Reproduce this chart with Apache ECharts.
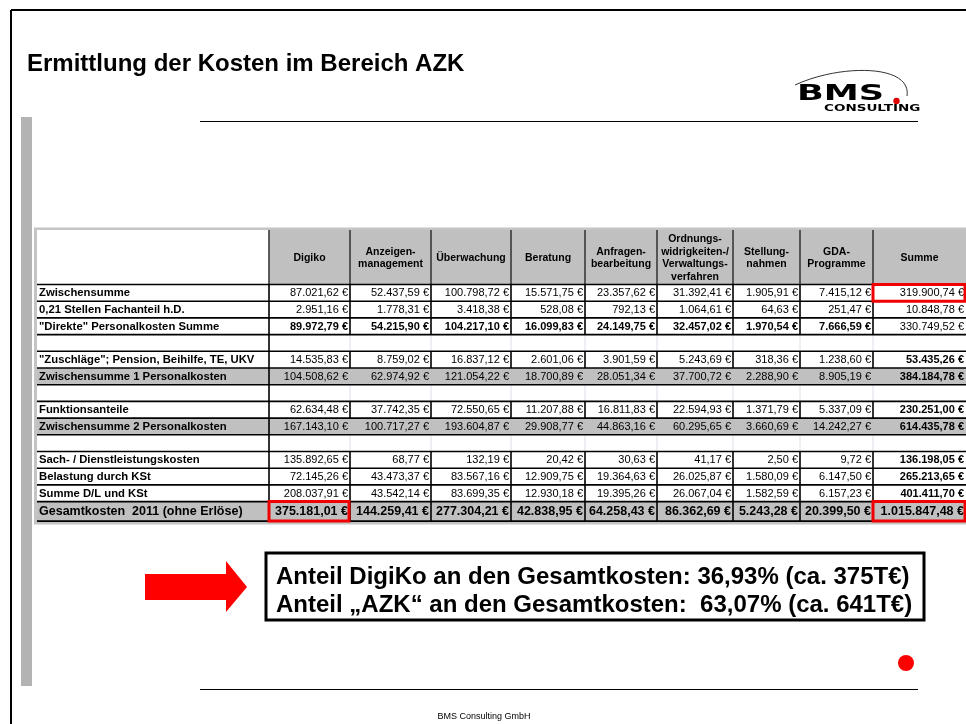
<!DOCTYPE html>
<html>
<head>
<meta charset="utf-8">
<script src="https://cdn.jsdelivr.net/npm/echarts@6/dist/echarts.min.js"></script>
<style>html,body{margin:0;padding:0;background:#fff}#c{width:966px;height:724px}</style>
</head>
<body>
<div id="c"></div>
<script>
// ---------- DATA ----------
const columns = ['Digiko', 'Anzeigen-\nmanagement', 'Überwachung', 'Beratung', 'Anfragen-\nbearbeitung',
  'Ordnungs-\nwidrigkeiten-/\nVerwaltungs-\nverfahren', 'Stellung-\nnahmen', 'GDA-\nProgramme', 'Summe'];
const rowLabels = ['Zwischensumme', '0,21 Stellen Fachanteil h.D.', '"Direkte" Personalkosten Summe', '',
  '"Zuschläge"; Pension, Beihilfe, TE, UKV', 'Zwischensumme 1 Personalkosten', '',
  'Funktionsanteile', 'Zwischensumme 2 Personalkosten', '',
  'Sach- / Dienstleistungskosten', 'Belastung durch KSt', 'Summe D/L und KSt', 'Gesamtkosten  2011 (ohne Erlöse)'];
const zwischensumme = [87021.62, 52437.59, 100798.72, 15571.75, 23357.62, 31392.41, 1905.91, 7415.12, 319900.74];
const fachanteil    = [2951.16, 1778.31, 3418.38, 528.08, 792.13, 1064.61, 64.63, 251.47, 10848.78];
const direkte       = [89972.79, 54215.90, 104217.10, 16099.83, 24149.75, 32457.02, 1970.54, 7666.59, 330749.52];
const zuschlaege    = [14535.83, 8759.02, 16837.12, 2601.06, 3901.59, 5243.69, 318.36, 1238.60, 53435.26];
const zwischen1     = [104508.62, 62974.92, 121054.22, 18700.89, 28051.34, 37700.72, 2288.90, 8905.19, 384184.78];
const funktion      = [62634.48, 37742.35, 72550.65, 11207.88, 16811.83, 22594.93, 1371.79, 5337.09, 230251.00];
const zwischen2     = [167143.10, 100717.27, 193604.87, 29908.77, 44863.16, 60295.65, 3660.69, 14242.27, 614435.78];
const sachkosten    = [135892.65, 68.77, 132.19, 20.42, 30.63, 41.17, 2.50, 9.72, 136198.05];
const belastung     = [72145.26, 43473.37, 83567.16, 12909.75, 19364.63, 26025.87, 1580.09, 6147.50, 265213.65];
const summeDL       = [208037.91, 43542.14, 83699.35, 12930.18, 19395.26, 26067.04, 1582.59, 6157.23, 401411.70];
const gesamt        = [375181.01, 144259.41, 277304.21, 42838.95, 64258.43, 86362.69, 5243.28, 20399.50, 1015847.48];
const rowValues = [zwischensumme, fachanteil, direkte, null, zuschlaege, zwischen1, null,
  funktion, zwischen2, null, sachkosten, belastung, summeDL, gesamt];

// ---------- LAYOUT / STYLE ----------
const rowKinds = ['normal', 'normal', 'bold', 'blank', 'normal', 'gray', 'blank', 'normal', 'gray', 'blank',
  'normal', 'normal', 'normal', 'total'];
const colWidths = [232, 81, 81, 80, 74, 72, 76, 67, 73, 93];
const rowHeights = [54.5].concat(new Array(13).fill(16.7)).concat([19.5]);
const highlights = [[1, 14], [9, 1], [9, 14]];

const colEdges = [0]; colWidths.forEach(w => colEdges.push(colEdges[colEdges.length - 1] + w));
const rowEdges = [0]; rowHeights.forEach(h => rowEdges.push(rowEdges[rowEdges.length - 1] + h));
const W = colEdges[colEdges.length - 1], H = rowEdges[rowEdges.length - 1];

function fmt(v) {
  const p = v.toFixed(2).split('.');
  p[0] = p[0].replace(/\B(?=(\d{3})+(?!\d))/g, '.');
  return p[0] + ',' + p[1] + ' €';
}
const FF = '"Liberation Sans", Arial, sans-serif';

const cells = [];
for (let r = 0; r <= rowLabels.length; r++) for (let c = 0; c <= columns.length; c++) cells.push([c, r]);

function renderItem(params, api) {
  const c = api.value(0), r = api.value(1);
  const p0 = api.coord([colEdges[c], rowEdges[r]]);
  const p1 = api.coord([colEdges[c + 1], rowEdges[r + 1]]);
  const x = p0[0], y = p0[1], w = p1[0] - p0[0], h = p1[1] - p0[1];
  const kind = r === 0 ? 'header' : rowKinds[r - 1];
  const ch = [];
  let fill = '#fff';
  if ((kind === 'header' && c > 0) || kind === 'gray' || kind === 'total') fill = '#c0c0c0';
  ch.push({ type: 'rect', z2: 0, shape: { x: x, y: y, width: w, height: h }, style: { fill: fill } });

  if (kind === 'header') {
    if (c > 0) ch.push({ type: 'text', z2: 20, style: { text: columns[c - 1], x: x + w / 2, y: y + h / 2 + 1,
      align: 'center', verticalAlign: 'middle', font: 'bold 10.5px ' + FF, lineHeight: 12.7, fill: '#000' } });
  } else if (kind !== 'blank') {
    const big = kind === 'total';
    if (c === 0) {
      ch.push({ type: 'text', z2: 20, style: { text: rowLabels[r - 1], x: x + 2, y: y + h / 2 + 0.5,
        align: 'left', verticalAlign: 'middle', font: 'bold ' + (big ? 12.5 : 11.3) + 'px ' + FF, fill: '#000' } });
    } else {
      let bold = kind === 'bold' || kind === 'total';
      if (c === 9) bold = r >= 5;
      ch.push({ type: 'text', z2: 20, style: { text: fmt(rowValues[r - 1][c - 1]), x: x + w - 2, y: y + h / 2 + 0.5,
        align: 'right', verticalAlign: 'middle', font: (bold ? 'bold ' : '') + (big ? 12.5 : 11) + 'px ' + FF, fill: '#000' } });
    }
  }
  if (c > 0) {
    let stroke = '#000', lw = 1.6;
    if (kind === 'header') { stroke = '#3a3a3a'; lw = 1.6; }
    else if (kind === 'gray' && c > 1) stroke = null;
    else if (kind === 'blank' && c > 1) { stroke = '#dce0ea'; lw = 1; }
    if (stroke) ch.push({ type: 'line', z2: kind === 'blank' && c > 1 ? 5 : 10,
      shape: { x1: x, y1: y, x2: x, y2: y + h }, style: { stroke: stroke, lineWidth: lw } });
  }
  ch.push({ type: 'line', z2: 12, shape: { x1: x, y1: y + h, x2: x + w, y2: y + h }, style: { stroke: '#000', lineWidth: 1.6 } });
  if (highlights.some(hh => hh[0] === c && hh[1] === r)) {
    ch.push({ type: 'rect', z2: 30, shape: { x: x, y: y, width: w - 1, height: h }, style: { fill: 'none', stroke: '#f00000', lineWidth: 3 } });
  }
  return { type: 'group', children: ch };
}

const chart = echarts.init(document.getElementById('c'), null, { renderer: 'canvas' });
chart.setOption({
  animation: false,
  backgroundColor: '#fff',
  grid: { left: 37, top: 230, width: W, height: H },
  xAxis: { type: 'value', min: 0, max: W, show: false },
  yAxis: { type: 'value', min: 0, max: H, inverse: true, show: false },
  series: [{ type: 'custom', renderItem: renderItem, data: cells, clip: false }],
  graphic: [
    { type: 'line', z: 1, shape: { x1: 11, y1: 10, x2: 966, y2: 10 }, style: { stroke: '#000', lineWidth: 2 } },
    { type: 'line', z: 1, shape: { x1: 11, y1: 10, x2: 11, y2: 724 }, style: { stroke: '#000', lineWidth: 2 } },
    { type: 'rect', z: 1, shape: { x: 21, y: 117, width: 11, height: 569 }, style: { fill: '#b3b3b3' } },
    { type: 'text', z: 1, x: 27, y: 64, style: { text: 'Ermittlung der Kosten im Bereich AZK', font: 'bold 24px ' + FF, fill: '#000', verticalAlign: 'middle' } },
    { type: 'line', z: 1, shape: { x1: 200, y1: 121.5, x2: 918, y2: 121.5 }, style: { stroke: '#000', lineWidth: 1 } },
    { type: 'line', z: 1, shape: { x1: 200, y1: 689.5, x2: 918, y2: 689.5 }, style: { stroke: '#000', lineWidth: 1 } },
    { type: 'bezierCurve', z: 1, shape: { x1: 795, y1: 85, cpx1: 840, cpy1: 64, cpx2: 912, cpy2: 64, x2: 907, y2: 96 }, style: { stroke: '#333', lineWidth: 1, fill: 'none' } },
    { type: 'text', z: 1, x: 797, y: 94, scaleX: 1.6, style: { text: 'BMS', font: 'bold 22px "DejaVu Sans"', fill: '#000', verticalAlign: 'middle' } },
    { type: 'circle', z: 1, shape: { cx: 896.5, cy: 101, r: 3.2 }, style: { fill: '#e00000' } },
    { type: 'text', z: 1, x: 824, y: 109, scaleX: 1.5, style: { text: 'CONSULTING', font: 'bold 9px "DejaVu Sans"', fill: '#000', verticalAlign: 'middle' } },
    { type: 'rect', z: 1, shape: { x: 35.5, y: 229, width: 940, height: 294 }, style: { fill: 'none', stroke: '#c4c4c4', lineWidth: 3 } },
    { type: 'polygon', z: 1, shape: { points: [[145, 574], [226, 574], [226, 561], [247, 587], [226, 612], [226, 600], [145, 600]] }, style: { fill: '#ff0000' } },
    { type: 'rect', z: 1, shape: { x: 266, y: 553, width: 658, height: 67 }, style: { fill: '#fff', stroke: '#000', lineWidth: 3 } },
    { type: 'text', z: 2, x: 276, y: 577, style: { text: 'Anteil DigiKo an den Gesamtkosten: 36,93% (ca. 375T€)', font: 'bold 24px ' + FF, fill: '#000', verticalAlign: 'middle' } },
    { type: 'text', z: 2, x: 276, y: 605, style: { text: 'Anteil \u201EAZK\u201C an den Gesamtkosten:  63,07% (ca. 641T€)', font: 'bold 24px ' + FF, fill: '#000', verticalAlign: 'middle' } },
    { type: 'circle', z: 1, shape: { cx: 906, cy: 663, r: 8 }, style: { fill: '#ff0000' } },
    { type: 'text', z: 1, x: 484, y: 717, style: { text: 'BMS Consulting GmbH', font: '9px ' + FF, fill: '#000', align: 'center', verticalAlign: 'middle' } }
  ]
});
</script>
</body>
</html>
